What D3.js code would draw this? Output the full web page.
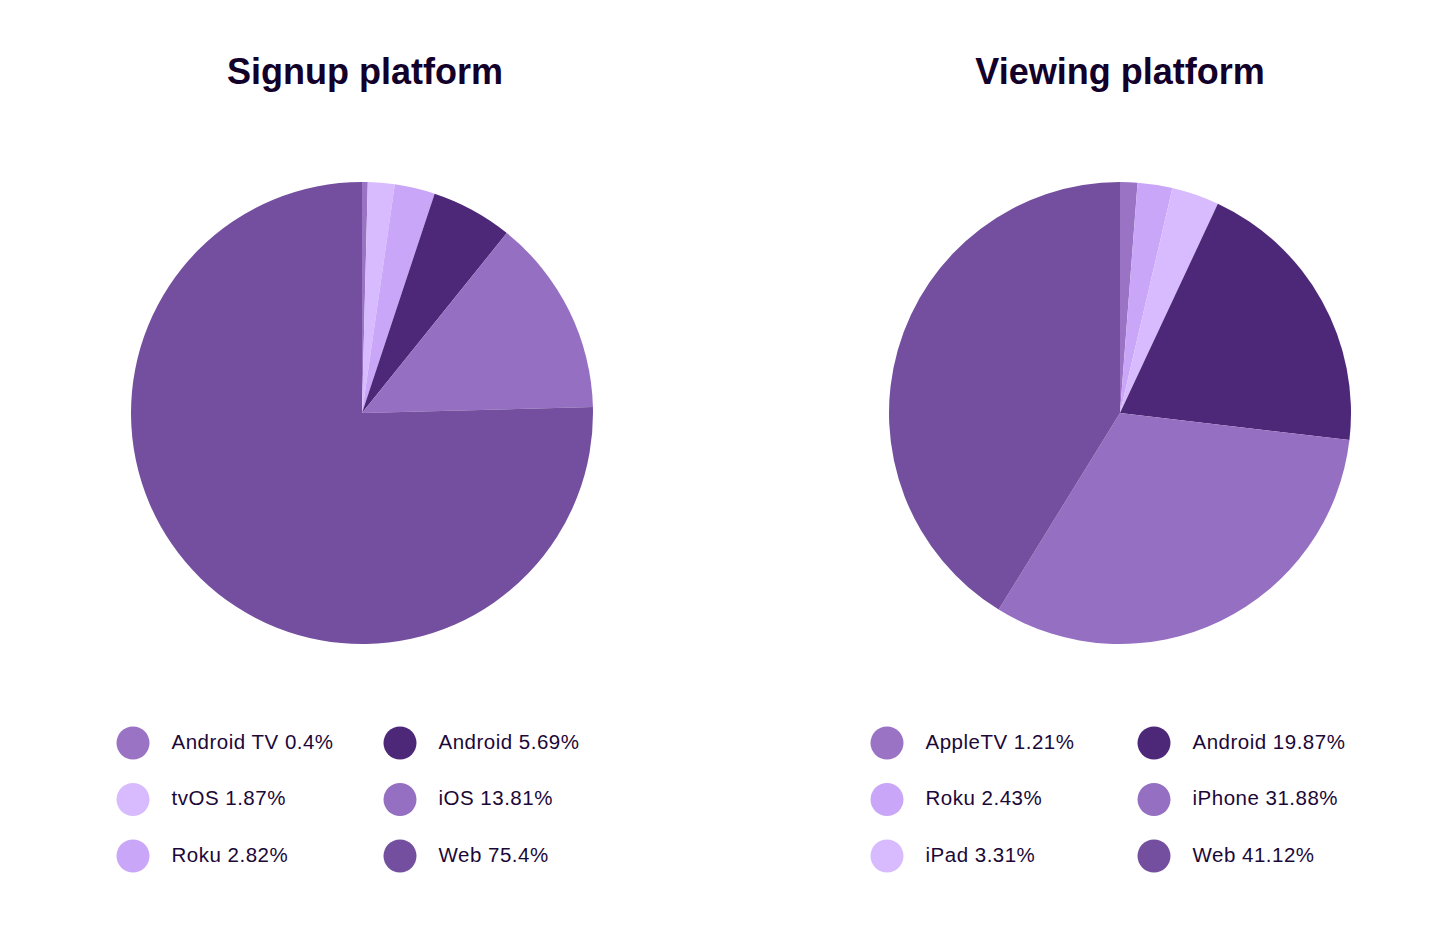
<!DOCTYPE html>
<html><head><meta charset="utf-8">
<script src="https://cdn.jsdelivr.net/npm/d3@7"></script>
<style>body{margin:0;background:#fff;}svg{display:block;}</style>
</head><body>
<svg id="chart" width="1444" height="932"></svg>
<script>
// Data
const signupLabels = ["Android TV","tvOS","Roku","Android","iOS","Web"];
const signupValues = [0.4,1.87,2.82,5.69,13.81,75.4];
const viewingLabels = ["AppleTV","Roku","iPad","Android","iPhone","Web"];
const viewingValues = [1.21,2.43,3.31,19.87,31.88,41.12];
const signupColors = ["#9a73c5","#d8bbfe","#caa6f8","#4d2778","#956fc1","#744f9f"];
const viewingColors = ["#9a73c5","#caa6f8","#d8bbfe","#4d2778","#956fc1","#744f9f"];

const svg = d3.select("#chart");
const charts = [
  {title:"Signup platform", labels:signupLabels, values:signupValues, colors:signupColors, cx:362, tx:365, legX:[133,400]},
  {title:"Viewing platform", labels:viewingLabels, values:viewingValues, colors:viewingColors, cx:1120, tx:1120, legX:[887,1154]}
];
const cy = 413, R = 231;
const pie = d3.pie().sort(null).value(d=>d.v);
const arc = d3.arc().innerRadius(0).outerRadius(R);

charts.forEach(c=>{
  const data = c.labels.map((l,i)=>({l, v:c.values[i], c:c.colors[i]}));
  svg.append("text").attr("x",c.tx).attr("y",84).attr("text-anchor","middle")
    .attr("font-family","Liberation Sans, Arial, sans-serif").attr("font-weight","bold")
    .attr("font-size",36).attr("fill","#12002a").text(c.title);
  const g = svg.append("g").attr("transform",`translate(${c.cx},${cy})`);
  g.selectAll("path").data(pie(data)).join("path").attr("d",arc).attr("fill",d=>d.data.c);
  const leg = svg.append("g");
  data.forEach((d,i)=>{
    const col = Math.floor(i/3), row = i%3;
    const x = c.legX[col], y = 743 + row*56.5;
    leg.append("circle").attr("cx",x).attr("cy",y).attr("r",16.5).attr("fill",d.c);
    leg.append("text").attr("x",x+38.5).attr("y",y+5.5).attr("font-family","Liberation Sans, Arial, sans-serif")
      .attr("font-size",20.5).attr("letter-spacing","0.5px").attr("fill","#1c0838").text(`${d.l} ${d.v}%`);
  });
});
</script>
</body></html>
